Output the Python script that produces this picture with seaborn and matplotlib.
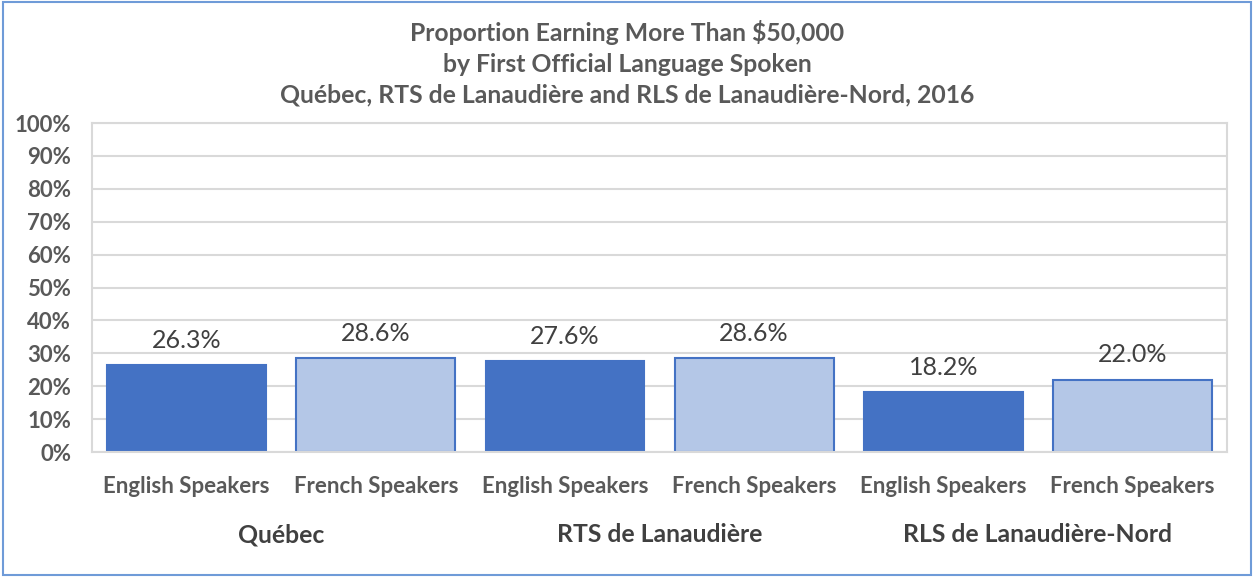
import matplotlib
matplotlib.use("Agg")
import matplotlib.pyplot as plt
from matplotlib.patches import Rectangle
import seaborn as sns
import pandas as pd

# data
regions = ["Québec", "RTS de Lanaudière", "RLS de Lanaudière-Nord"]
languages = ["English Speakers", "French Speakers"]
values = [26.3, 28.6, 27.6, 28.6, 18.2, 22.0]

rows = []
i = 0
for r in regions:
    for lang in languages:
        rows.append({"slot": f"{r}|{lang}", "region": r, "lang": lang, "pct": values[i]})
        i += 1
df = pd.DataFrame(rows)

sns.set_style("white")
plt.rcParams["font.family"] = ["Lato", "DejaVu Sans"]

fig = plt.figure(figsize=(12.54, 5.77), dpi=100)
ax = fig.add_axes([0.0734, 0.2166, 0.9051, 0.5702])

colors = {"English Speakers": "#4472C4", "French Speakers": "#B4C7E7"}
sns.barplot(data=df, x="slot", y="pct", hue="lang", palette=colors, dodge=False,
            width=0.84, ax=ax, legend=False, linewidth=1.5, edgecolor="#4472C4",
            saturation=1)

ax.set_ylim(0, 100)
ax.set_yticks(range(0, 101, 10))
ax.set_yticklabels([f"{t}%" for t in range(0, 101, 10)], fontsize=16, fontweight="bold", color="#595959")
ax.yaxis.grid(True, color="#D9D9D9", linewidth=1.5)
ax.set_axisbelow(True)
for s in ax.spines.values():
    s.set_color("#D9D9D9")
    s.set_linewidth(1.5)
ax.tick_params(axis="both", length=0)
ax.tick_params(axis="y", pad=15)
ax.set_xlabel("")
ax.set_ylabel("")
ax.set_xticks(range(len(df)))
ax.set_xticklabels(df["lang"], fontsize=16, color="#595959", fontweight="bold")
ax.tick_params(axis="x", pad=17)

for idx, v in enumerate(df["pct"]):
    ax.text(idx, v + 4, f"{v:.1f}%", ha="center", va="bottom", fontsize=18, color="#404040")

for k, r in enumerate(regions):
    ax.text(2 * k + 0.5, -25.2, r, ha="center", va="center", fontsize=17.8,
            fontweight="bold", color="#404040")

fig.text(0.5, 0.965, "Proportion Earning More Than $50,000\nby First Official Language Spoken\n"
         "Québec, RTS de Lanaudière and RLS de Lanaudière-Nord, 2016",
         ha="center", va="top", fontsize=17.8, fontweight="bold", color="#595959", linespacing=1.4)

fig.patches.append(Rectangle((0.002, 0.003), 0.996, 0.994, transform=fig.transFigure,
                             fill=False, edgecolor="#6F9BD8", linewidth=1.5))

fig.savefig("out.png", dpi=100)
